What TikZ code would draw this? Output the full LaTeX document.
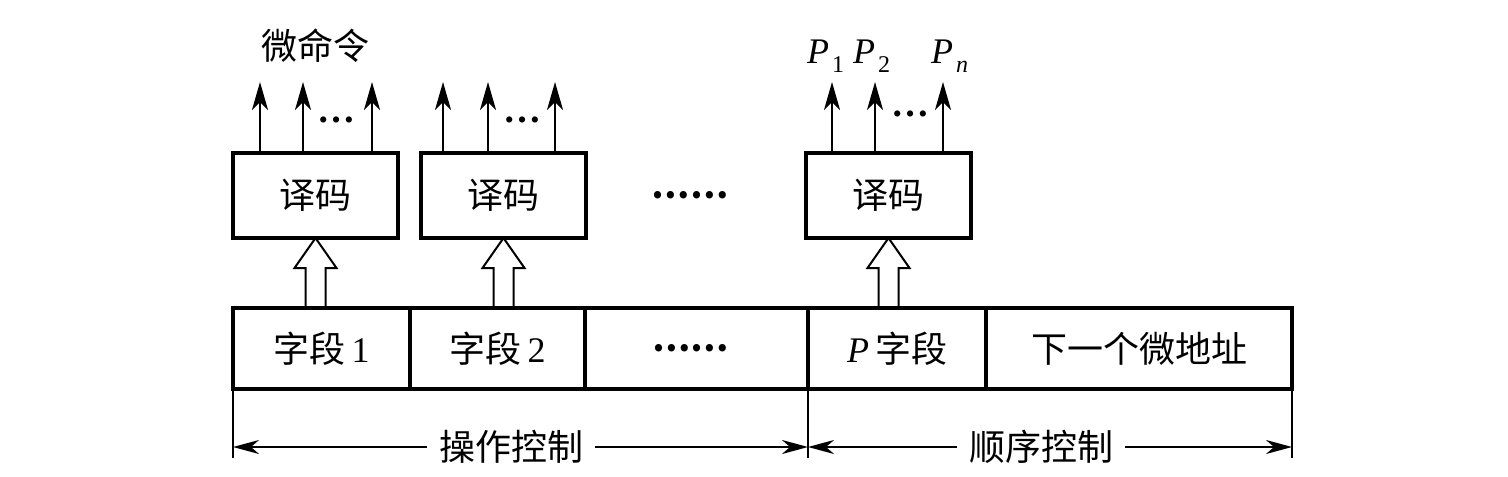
\documentclass[tikz,border=0pt]{standalone}
\usepackage{fontspec}
\setmainfont{Liberation Serif}
\newfontfamily\cjk{Noto Sans CJK SC}
\usetikzlibrary{arrows.meta,calc}
\newcommand\Psub[1]{\textit{P}\kern1.5pt\raisebox{-4.5pt}{\fontsize{12pt}{13pt}\selectfont #1}}
\tikzset{
 decbox/.style={draw, line width=2.2pt, minimum width=82.5pt, minimum height=42.5pt, inner sep=0pt, outer sep=0pt, font=\fontsize{18pt}{20pt}\selectfont\cjk},
 field/.style={draw, line width=2.2pt, minimum height=40.5pt, inner sep=0pt, outer sep=0pt, font=\fontsize{18pt}{20pt}\selectfont},
 outarrow/.style={line width=1.2pt, -{Stealth[length=14pt,width=8pt,inset=4pt]}},
 hollow/.style={line width=1pt, line join=miter},
 tickline/.style={line width=0.8pt},
 spanarrow/.style={line width=0.8pt, -{Stealth[length=13pt,width=7pt,inset=4pt]}},
 lbl/.style={inner sep=0pt, outer sep=0pt},
 cjktext/.style={font=\fontsize{18pt}{20pt}\selectfont\cjk},
 cjkdots/.style={font=\fontsize{17pt}{20pt}\selectfont\cjk\bfseries},
 dots/.style={lbl, anchor=base, font=\fontsize{19pt}{20pt}\selectfont\bfseries},
 plabel/.style={lbl, anchor=base west, font=\fontsize{18pt}{20pt}\selectfont},
}
\begin{document}
\begin{tikzpicture}[x=0.5pt,y=-0.5pt]
\useasboundingbox (0,0) rectangle (1508,476);
% decoders
\node[decbox] (d1) at (315.5,195.5) {译码};
\node[decbox] (d2) at (503.5,195.5) {译码};
\node[decbox] (d3) at (888.5,195.5) {译码};
\node[lbl, cjkdots] (mid) at (690,195) {……};
% fields
\node[field, minimum width=88.5pt] (f1) at (321.5,348.5) {{\cjk 字段}\,1};
\node[field, minimum width=87.5pt] (f2) at (497.5,348.5) {{\cjk 字段}\,2};
\node[field, minimum width=111.5pt, cjkdots] (f3) at (696.5,348.5) {\hspace*{-6pt}……};
\node[field, minimum width=89pt] (f4) at (897,348.5) {\textit{P}\,{\cjk 字段}};
\node[field, minimum width=153pt] (f5) at (1139,348.5) {{\cjk 下一个微地址}};
% output arrows
\foreach \n/\xa/\xb/\xc in {1/260/303/372, 2/443/488/555, 3/832/875/943}{
  \coordinate (o\n a) at (\xa,82);
  \coordinate (o\n b) at (\xb,82);
  \coordinate (o\n c) at (\xc,82);
  \draw[outarrow] (o\n a |- d\n.north) -- (o\n a);
  \draw[outarrow] (o\n b |- d\n.north) -- (o\n b);
  \draw[outarrow] (o\n c |- d\n.north) -- (o\n c);
}
\node[dots] (e1) at (336,122) {…};
\node[dots] (e2) at (522,122) {…};
\node[dots] (e3) at (910,117) {…};
% labels
\node[lbl, cjktext] (mc) at (315,46) {微命令};
\node[plabel] (p1) at (807,64) {\Psub{1}};
\node[plabel] (p2) at (853,64) {\Psub{2}};
\node[plabel] (pn) at (931,64) {\Psub{\textit{n}}};
% hollow arrows
\foreach \n/\f in {1/1, 2/2, 3/4}{
  \coordinate (b\n) at (d\n.south |- f\f.north);
  \draw[hollow] ($(b\n)+(-10,0)$) -- ($(b\n)+(-10,-40)$) -- ($(b\n)+(-21,-40)$)
    -- (d\n.south) -- ($(b\n)+(21,-40)$) -- ($(b\n)+(10,-40)$) -- ($(b\n)+(10,0)$);
}
% span brackets
\draw[tickline] (f1.south west) -- ++(0,69);
\draw[tickline] (f4.south west) -- ++(0,69);
\draw[tickline] (f5.south east) -- ++(0,69);
\node[cjktext, inner sep=6pt] (c1) at (511,447) {操作控制};
\node[cjktext, inner sep=6pt] (c2) at (1041,447) {顺序控制};
\draw[spanarrow] (c1.west) -- (c1.west -| f1.west);
\draw[spanarrow] (c1.east) -- (c1.east -| f4.west);
\draw[spanarrow] (c2.west) -- (c2.west -| f4.west);
\draw[spanarrow] (c2.east) -- (c2.east -| f5.east);
\end{tikzpicture}
\end{document}
